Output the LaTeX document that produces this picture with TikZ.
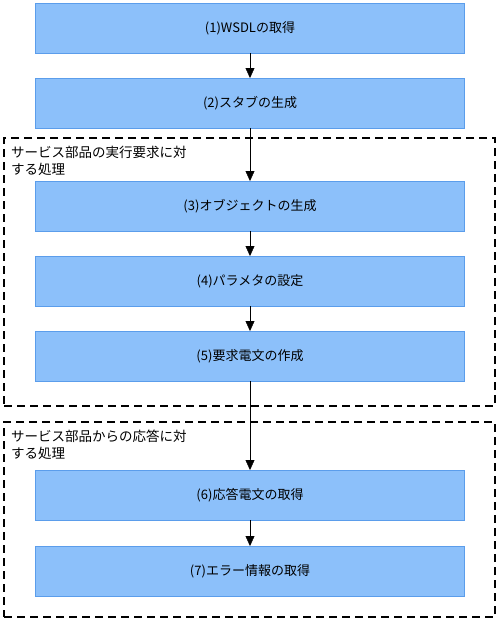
\documentclass[tikz,border=0pt]{standalone}
\usepackage{fontspec}
\setmainfont{Noto Sans CJK JP}
\usetikzlibrary{arrows.meta}
\usetikzlibrary{positioning}
\definecolor{stepfill}{HTML}{8CC0FA}
\definecolor{stepline}{HTML}{5B9DEB}
\tikzstyle{aS}=[every edge/.style={draw,->,>={Triangle[length=10pt,width=9pt]}}]
\tikzstyle{Astep}=[draw=stepline,fill=stepfill,minimum width=429pt,minimum height=50pt,inner sep=0,outer sep=0,font=\fontsize{13}{15}\selectfont]
\tikzstyle{Agroup}=[draw,line width=2pt,dash pattern=on 8pt off 5pt,anchor=north west,inner sep=0,outer sep=0]
\tikzstyle{Alabel}=[anchor=north west,inner sep=0,align=left,font=\fontsize{13.5}{17}\selectfont]
\begin{document}
\begin{tikzpicture}[aS,x=1pt,y=1pt,node distance=25pt]
\path[use as bounding box] (0,0) rectangle (500,-622);

\node[Agroup,minimum width=491pt,minimum height=268pt] (req) at (4,-138) {};
\node[Alabel] (reqlbl) at (11,-146) {サービス部品の実行要求に対\\する処理};
\node[Agroup,minimum width=491pt,minimum height=195pt] (res) at (4,-422) {};
\node[Alabel] (reslbl) at (11,-430) {サービス部品からの応答に対\\する処理};

\node[Astep] (wsdl) at (250,-28) {(1)WSDLの取得};
\node[Astep,below=of wsdl] (stub) {(2)スタブの生成};
\node[Astep,below=53pt of stub] (obj) {(3)オブジェクトの生成};
\node[Astep,below=of obj] (param) {(4)パラメタの設定};
\node[Astep,below=of param] (reqmsg) {(5)要求電文の作成};
\node[Astep,below=89pt of reqmsg] (resmsg) {(6)応答電文の取得};
\node[Astep,below=26pt of resmsg] (err) {(7)エラー情報の取得};

\path
(wsdl) edge (stub) (stub) edge (obj)
(obj) edge (param) (param) edge (reqmsg)
(reqmsg) edge (resmsg) (resmsg) edge (err)
;
\end{tikzpicture}
\end{document}
